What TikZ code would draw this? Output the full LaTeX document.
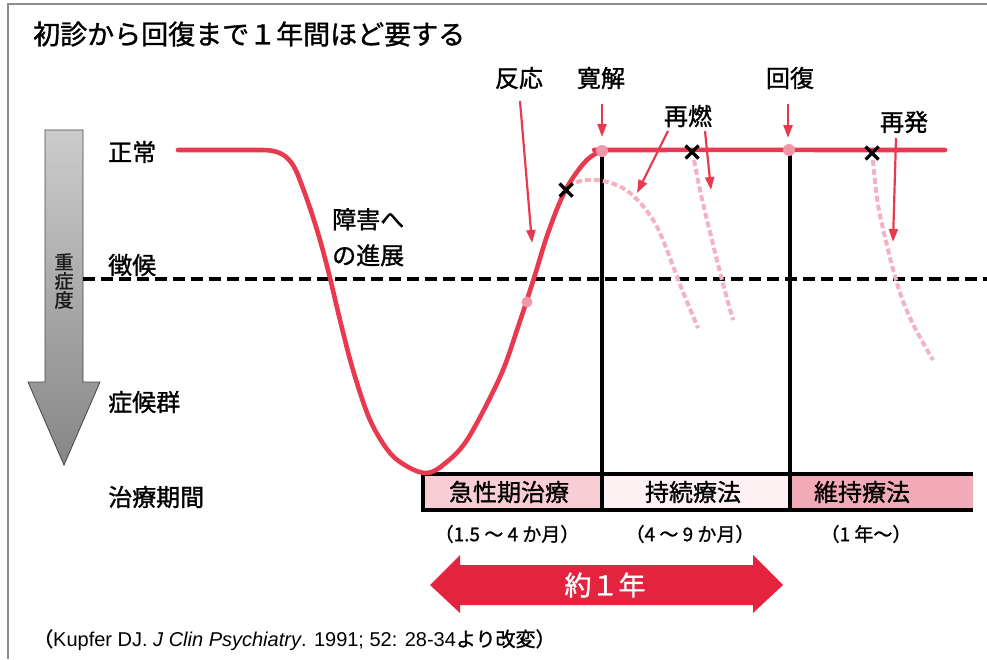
\documentclass[tikz,border=0pt]{standalone}
\usepackage{fontspec}
\setmainfont{Liberation Sans}
\newfontfamily\jp{Noto Sans CJK JP}[FakeBold=1.2]
\usetikzlibrary{arrows.meta,calc}
\newcommand\fsz[1]{\fontsize{#1}{#1}\selectfont}
\definecolor{curvered}{RGB}{232,57,78}
\definecolor{bigred}{RGB}{228,36,62}
\definecolor{relpink}{RGB}{245,178,192}
\definecolor{dotpink}{RGB}{242,150,168}
\definecolor{cellA}{RGB}{248,205,213}
\definecolor{cellB}{RGB}{253,241,244}
\definecolor{cellC}{RGB}{243,170,184}
\definecolor{framegray}{RGB}{140,140,140}
\begin{document}
\begin{tikzpicture}[x=1pt,y=-1pt,
  lbl/.style={inner sep=0pt,font=\jp\fsz{24}},
  redarrow/.style={draw=curvered,line width=2.2pt,-{Triangle[length=13pt,width=9pt]}},
  relapse/.style={draw=relpink,line width=4pt,dash pattern=on 6pt off 3pt},
  xmark/.style={draw=black,line width=3.2pt},
  pinkdot/.style={fill=dotpink,draw=none},
  blackline/.style={draw=black,line width=3.6pt},
  barline/.style={draw=black,line width=3.2pt},
  course/.style={draw=curvered,line width=4.6pt,line join=round,line cap=round}]
\useasboundingbox (0,0) rectangle (987,659);
\fill[white] (0,0) rectangle (987,659);
% frame
\draw[framegray,line width=2pt] (8,659) -- (8,4) -- (987,4);
% title
\node[lbl,anchor=west,font=\jp\fsz{27}] (title) at (33,34) {初診から回復まで１年間ほど要する};
% severity arrow
\shade[top color=gray!40,bottom color=gray!95,draw=gray!55!black,line width=0.8pt]
  (45,130) -- (83,130) -- (83,382) -- (100,382) -- (64,465) -- (28,382) -- (45,382) -- cycle;
\node[inner sep=0pt,align=center,text=black!90,font={\jp\fontsize{19}{19}\selectfont}] (sev) at (64,281) {重\\症\\度};
% axis labels
\node[lbl,anchor=west] (normal) at (108,152) {正常};
\node[lbl,anchor=west] (sign) at (108,265) {徴候};
\node[lbl,anchor=west] (synd) at (108,402) {症候群};
\node[lbl,anchor=west] (period) at (108,497) {治療期間};
% threshold dashed line
\draw[black,line width=3.8pt,dash pattern=on 12pt off 6pt] (83,279) -- (987,279);
% bar cells
\fill[cellA] (423,474) rectangle (602,510);
\fill[cellB] (602,474) rectangle (790,510);
\fill[cellC] (790,474) rectangle (973,510);
\draw[barline] (973,474) -- (423,474) -- (423,510) -- (973,510);
% vertical lines
\draw[blackline] (602,151) -- (602,510);
\draw[blackline] (790,151) -- (790,510);
% bar labels
\node[lbl] (acute) at (509,492) {急性期治療};
\node[lbl] (cont) at (693,492) {持続療法};
\node[lbl] (maint) at (862,492) {維持療法};
\node[lbl,font=\jp\fsz{19}] (acuteT) at (507,534) {（1.5 ～ 4 か月）};
\node[lbl,font=\jp\fsz{19}] (contT) at (690,534) {（4 ～ 9 か月）};
\node[lbl,font=\jp\fsz{19}] (maintT) at (866,534) {（1 年～）};
% relapse curves
\draw[relapse] plot[smooth,tension=0.6] coordinates {(568,186) (580,181) (596,180) (614,184) (630,193) (646,210) (660,233) (681,287) (698,328)};
\draw[relapse] plot[smooth,tension=0.6] coordinates {(694,160) (700,190) (707,220) (722,280) (733,320)};
\draw[relapse] plot[smooth,tension=0.6] coordinates {(873,160) (876,190) (881,220) (896,280) (911,320) (933,360)};
% main course curve
\draw[course] (178,150) -- (262,150) .. controls (286,150) and (293,161) .. (301,183);
\draw[course] plot[smooth,tension=0.55] coordinates {
 (301,183) (310,208) (320,240) (330,278) (340,320) (353,370) (370,420) (390,453) (410,468) (427,473) (443,465) (467,440) (500,377) (518,327) (534,278) (548,233) (565,191) (585,162) (602,151) (622,150) (945,150)};
% pink dots
\fill[pinkdot] (527,302) circle (5.5pt);
\fill[pinkdot] (602,151) circle (6pt);
\fill[pinkdot] (789,150) circle (6pt);
% x marks
\foreach \n/\px/\py in {xa/566/190, xb/692/152, xc/872/153}{
  \coordinate (\n) at (\px,\py);
  \draw[xmark] ($(\n)+(-6.5,-6.5)$) -- ($(\n)+(6.5,6.5)$);
  \draw[xmark] ($(\n)+(-6.5,6.5)$) -- ($(\n)+(6.5,-6.5)$);
}
% event labels
\node[lbl] (resp) at (519,78) {反応};
\node[lbl] (remis) at (601,78) {寛解};
\node[lbl] (recov) at (790,78) {回復};
\node[lbl] (relap) at (688,116) {再燃};
\node[lbl] (recur) at (904,122) {再発};
\coordinate (respT) at (532,243);
\coordinate (remisT) at (602,137);
\coordinate (recovT) at (788,138);
\coordinate (relapA) at (637,193);
\coordinate (relapB) at (711,190);
\coordinate (recurT) at (893,242);
\draw[redarrow] (520,101) -- (respT);
\draw[redarrow] (602,104) -- (remisT);
\draw[redarrow] (788,104) -- (recovT);
\draw[redarrow] (668,131) -- (relapA);
\draw[redarrow] (705,131) -- (relapB);
\draw[redarrow] (896,138) -- (recurT);
% progression label
\node[inner sep=0pt,anchor=north west,align=left,font={\jp\fontsize{24}{36}\selectfont}] (prog) at (332,208) {障害へ\\の進展};
% big double arrow
\fill[bigred] (430,585) -- (460,555) -- (460,565) -- (753,565) -- (753,555) -- (783,585) -- (753,613) -- (753,605) -- (460,605) -- (460,613) -- cycle;
\node[lbl,text=white,font=\jp\fsz{27}] (year) at (605,585) {約１年};
% citation
\node[inner sep=0pt,anchor=west,font=\fsz{20}] (cite) at (33,640) {{\jp （}Kupfer DJ. \textit{J Clin Psychiatry}. 1991; 52: 28-34{\jp より改変）}};
\end{tikzpicture}
\end{document}
